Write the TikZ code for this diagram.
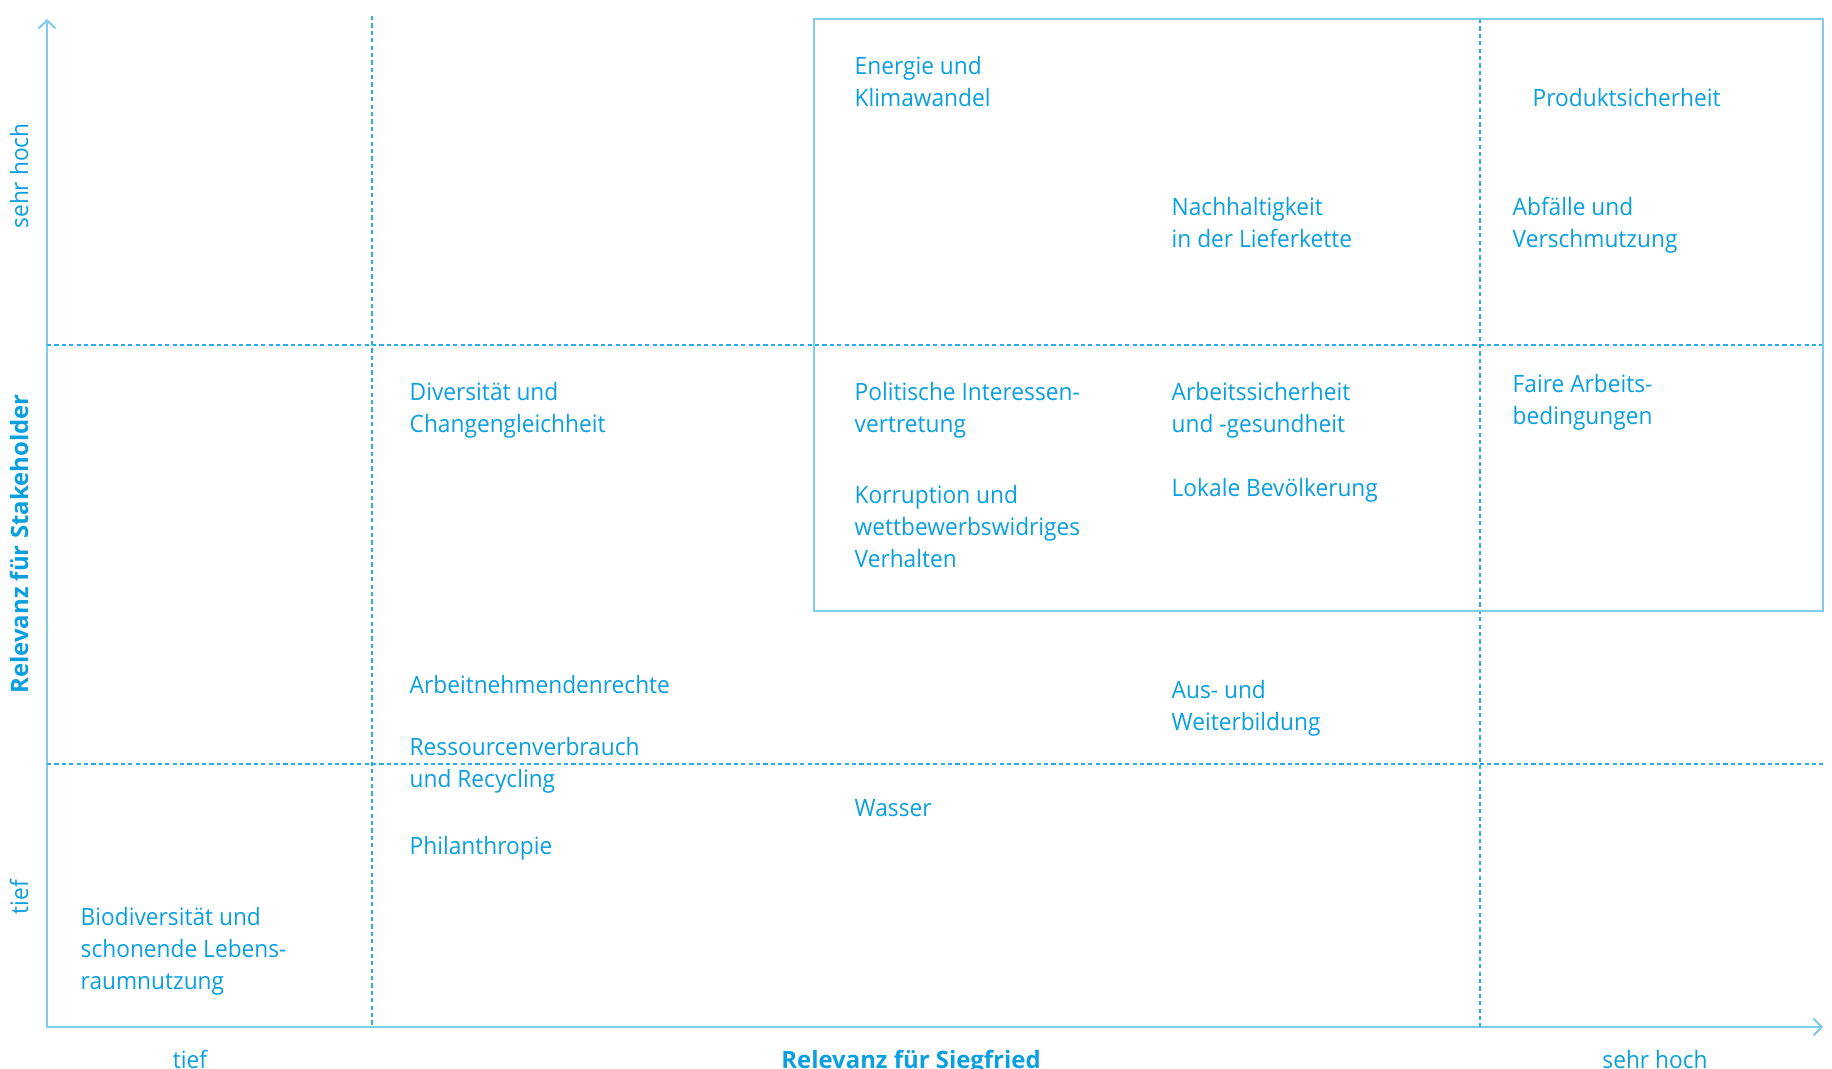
\documentclass[tikz,border=0pt]{standalone}
\usepackage{fontspec}
\setmainfont[FakeStretch=0.95]{Open Sans}
\newfontfamily\titlefont{Open Sans}
\usetikzlibrary{arrows.meta,positioning}

\definecolor{sfblue}{HTML}{0A9FDF}
\definecolor{sflight}{HTML}{7FCCEC}
\definecolor{sfdash}{HTML}{2AABE2}

\begin{document}
\begin{tikzpicture}[x=0.01cm, y=-0.01cm,
	topic/.style={anchor=base west, inner sep=0pt, align=left, text=sfblue,
		font=\fontsize{6.8}{9.07}\selectfont},
	scalelabel/.style={anchor=base, inner sep=0pt, text=sfblue,
		font=\fontsize{6.8}{9.07}\selectfont},
	axistitle/.style={scalelabel, font=\titlefont\fontsize{6.8}{9.07}\selectfont\bfseries},
	axis/.style={draw=sflight, line width=0.6pt},
	grid/.style={draw=sfdash, line width=0.35pt, dash pattern=on 1.2pt off 0.9pt},
	frame/.style={draw=sflight, line width=0.55pt}
]
	\useasboundingbox (0,0) rectangle (1832,1069);

	% Axes
	\coordinate (origin) at (47,1027);
	\coordinate (ytip) at (47,19);
	\coordinate (xtip) at (1823,1027);
	\draw[axis, {Straight Barb[length=0.08cm,width=0.17cm]}-{Straight Barb[length=0.08cm,width=0.17cm]}]
		(ytip) -- (origin) -- (xtip);

	% Grid
	\draw[grid] (372,16) -- (372,1027);
	\draw[grid] (1480,19) -- (1480,1027);
	\draw[grid] (47,345) -- (1823,345);
	\draw[grid] (47,764) -- (1823,764);

	% Material topics
	\draw[frame] (814,19) rectangle (1823,611);

	% Topics (base = last line)
	\node[topic] (energie) at (854,106) {Energie und\\Klimawandel};
	\node[topic] (produkt) at (1532,106) {Produktsicherheit};
	\node[topic] (lieferkette) at (1171,247) {Nachhaltigkeit\\in der Lieferkette};
	\node[topic] (abfaelle) at (1512,247) {Abfälle und\\Verschmutzung};
	\node[topic] (diversitaet) at (409,432) {Diversität und\\Changengleichheit};
	\node[topic] (politik) at (854,432) {Politische Interessen-\\vertretung};
	\node[topic] (sicherheit) at (1171,432) {Arbeitssicherheit\\und -gesundheit};
	\node[topic] (faire) at (1512,424) {Faire Arbeits-\\bedingungen};
	\node[topic] (korruption) at (854,567) {Korruption und\\wettbewerbswidriges\\Verhalten};
	\node[topic] (lokal) at (1171,496) {Lokale Bevölkerung};
	\node[topic] (rechte) at (409,693) {Arbeitnehmendenrechte};
	\node[topic] (bildung) at (1171,730) {Aus- und\\Weiterbildung};
	\node[topic] (ressourcen) at (409,787) {Ressourcenverbrauch\\und Recycling};
	\node[topic] (wasser) at (854,816) {Wasser};
	\node[topic] (philanthropie) at (409,854) {Philanthropie};
	\node[topic] (biodiv) at (80,989) {Biodiversität und\\schonende Lebens-\\raumnutzung};

	% Axis labels
	\node[scalelabel] (xlow) at (190,1068) {tief};
	\node[axistitle] (xtitle) at (911,1068) {Relevanz für Siegfried};
	\node[scalelabel] (xhigh) at (1655,1068) {sehr hoch};
	\node[scalelabel, rotate=90] (ylow) at (28,897) {tief};
	\node[axistitle, rotate=90] (ytitle) at (28,544) {Relevanz für Stakeholder};
	\node[scalelabel, rotate=90] (yhigh) at (28,176) {sehr hoch};

\end{tikzpicture}
\end{document}
